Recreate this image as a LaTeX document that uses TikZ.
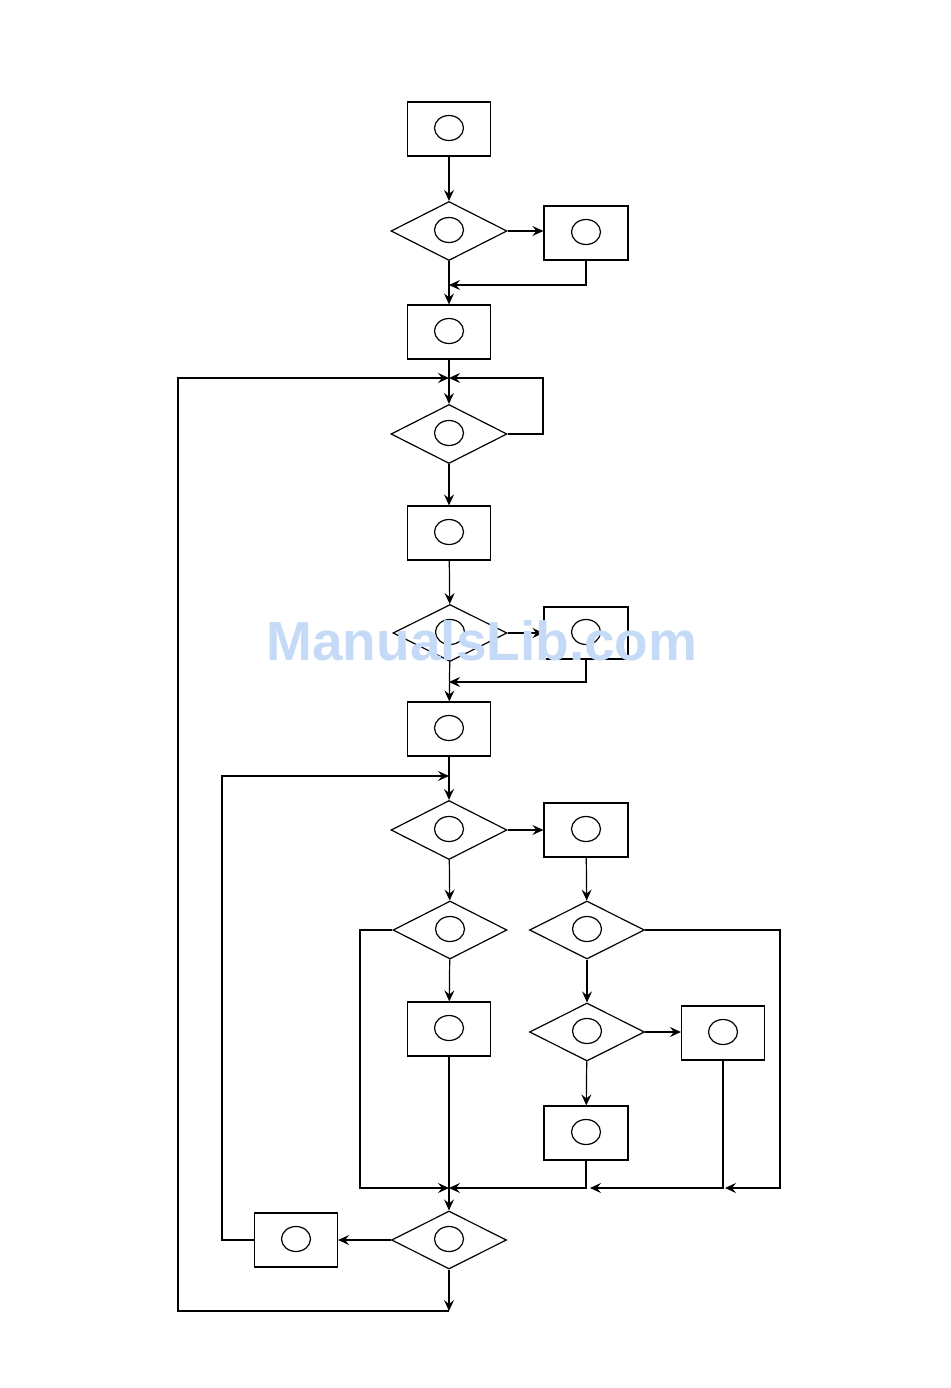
\documentclass[tikz,border=0pt]{standalone}
\usepackage{fontspec}
\usetikzlibrary{shapes.geometric,arrows.meta}
\begin{document}
\begin{tikzpicture}[x=1pt,y=-1pt,line width=1.2pt,
  arr/.style={-{Stealth[length=11pt,width=10pt,inset=4pt]}},
  ring/.style={path picture={\draw[line width=1.2pt] ([yshift=1pt]path picture bounding box.center) ellipse (14.5pt and 12.5pt);}},
  box/.style={draw,line width=1.2pt,rectangle,minimum width=83pt,minimum height=54pt,inner sep=0pt,ring},
  dia/.style={draw,line width=1.2pt,diamond,minimum width=116pt,minimum height=59pt,inner sep=0pt,ring}]
\useasboundingbox (0,0) rectangle (950,1388);
% nodes
\node[box] (b1) at (449,129) {};
\node[dia] (d1) at (449,231) {};
\node[box,minimum width=84pt] (b2) at (586,233) {};
\node[box] (b3) at (449,332) {};
\node[dia] (d2) at (449,434) {};
\node[box] (b4) at (449,533) {};
\node[dia,minimum width=114pt,minimum height=57pt] (d3) at (450,633) {};
\node[box,minimum width=84pt,minimum height=52pt] (b5) at (586,633) {};
\node[box] (b6) at (449,729) {};
\node[dia] (d4) at (449,830) {};
\node[box,minimum width=84pt] (b7) at (586,830) {};
\node[dia,minimum width=114pt,minimum height=58pt] (d5) at (450,930) {};
\node[dia,minimum width=115pt,minimum height=58pt] (d6) at (587,930) {};
\node[box] (b8) at (449,1029) {};
\node[dia,minimum width=115pt,minimum height=58pt] (d7) at (587,1032) {};
\node[box] (b9) at (723,1033) {};
\node[box,minimum width=84pt] (b10) at (586,1133) {};
\node[dia,minimum width=115pt,minimum height=58pt] (d8) at (449,1240) {};
\node[box] (b11) at (296,1240) {};
% junction coordinates
\coordinate (j1) at (449,285);
\coordinate (j2) at (449,378);
\coordinate (j3) at (449,682);
\coordinate (j4) at (449,776);
\coordinate (j5) at (449,1188);
\coordinate (j6) at (590,1188);
\coordinate (j7) at (725,1188);
\coordinate (jend) at (449,1311);
\coordinate (rl) at (543,434);
\coordinate (ll) at (178,1311);
\coordinate (lc) at (360,930);
\coordinate (rc) at (780,930);
\coordinate (bl) at (222,1240);
% connectors
\draw[arr] (b1) -- (d1);
\draw[arr] (d1.east) -- (d1.east -| b2.west);
\draw[arr] (b2.south) |- (j1);
\draw[arr] (d1) -- (b3);
\draw[arr] (b3) -- (d2);
\draw[arr] (d2.east) -- (rl) |- (j2);
\draw[arr] (jend) -- (ll) |- (j2);
\draw[arr] (d2) -- (b4);
\draw[arr] (b4) -- (d3);
\draw[arr] (d3) -- (b5);
\draw[arr] (b5.south) |- (j3);
\draw[arr] (d3) -- (b6);
\draw[arr] (b6) -- (d4);
\draw[arr] (d4) -- (b7);
\draw[arr] (d4) -- (d5);
\draw[arr] (b7) -- (d6);
\draw[arr] (d5) -- (b8);
\draw[arr] (d6) -- (d7);
\draw[arr] (d7.east) -- (d7.east -| b9.west);
\draw[arr] (d7) -- (b10);
\draw[arr] (d5.west) -- (lc) |- (j5);
\draw[arr] (b10.south) |- (j5);
\draw[arr] (b9.south) |- (j6);
\draw[arr] (d6.east) -- (rc) |- (j7);
\draw[arr] (b8) -- (d8);
\draw[arr] (d8) -- (b11);
\draw[arr] (b11.west) -- (bl) |- (j4);
\draw[arr] (d8.south) -- (jend);
% watermark
\node[font=\fontspec{Liberation Sans}\bfseries\fontsize{55}{60}\selectfont,text={rgb,255:red,197;green,218;blue,246},inner sep=0pt,anchor=base] (wm) at (482,660) {ManualsLib.com};
\end{tikzpicture}
\end{document}
